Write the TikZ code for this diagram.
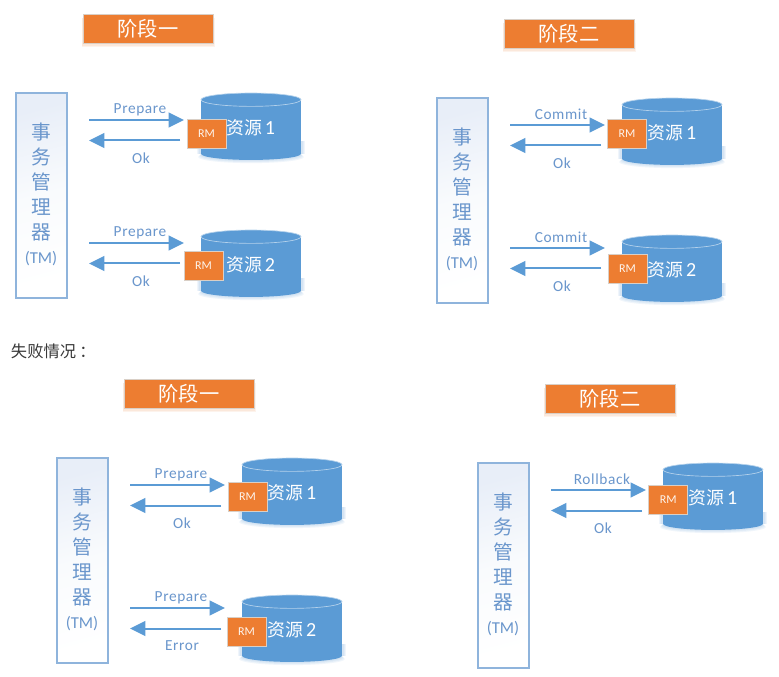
\documentclass[tikz,border=0pt]{standalone}
\usepackage{fontspec}
\usetikzlibrary{arrows.meta}
\setmainfont{Carlito}
\newfontfamily\cjk{Noto Sans CJK SC}
\newfontfamily\lat[LetterSpace=4]{Carlito}
\definecolor{ora}{HTML}{ED7D31}
\definecolor{blu}{HTML}{5B9BD5}
\definecolor{txtb}{HTML}{6A96CC}
\definecolor{edgeb}{HTML}{8FB4DC}
\definecolor{tmfill}{HTML}{E8EEF8}
\definecolor{tmmid}{HTML}{F9FBFD}
\definecolor{softedge}{HTML}{D9CFC6}
\tikzset{
  base/.style={inner sep=0pt,outer sep=0pt},
  titlebox/.style={base,fill=ora,draw=softedge,line width=0.6pt,minimum width=97.5pt,minimum height=21.75pt,text=white,font=\cjk\fontsize{15.2pt}{17pt}\selectfont},
  tmbox/.style={base,draw=edgeb,line width=1.1pt,minimum width=38.25pt,minimum height=153.75pt,top color=tmfill,bottom color=white,middle color=tmmid,shading angle=15},
  tmtext/.style={base,text=txtb,font=\cjk\fontsize{14.8pt}{16pt}\selectfont},
  tmsub/.style={base,text=txtb,font=\fontsize{12.5pt}{14pt}\selectfont},
  rmbox/.style={base,fill=ora,draw=softedge,line width=0.7pt,minimum width=29.25pt,minimum height=21.75pt,text=white!92!ora,font=\fontsize{9pt}{10pt}\selectfont},
  dbbox/.style={base,minimum width=75pt,minimum height=50.25pt},
  dbtext/.style={base,text=white,font=\cjk\fontsize{13.4pt}{15pt}\selectfont},
  msg/.style={base,text=txtb,font=\lat\fontsize{11.5pt}{13pt}\selectfont},
  flow/.style={draw=blu,line width=1.5pt,-{Triangle[length=11.5pt,width=11pt]}},
  failtext/.style={base,text=black!78,font=\cjk\fontsize{12.2pt}{14pt}\selectfont},
  softshadow/.style={fill=#1,opacity=0.09,draw=none}
}
% #1 id, #2 title
\newcommand{\panelhead}[2]{
  \foreach \g in {1,2,3}{\fill[softshadow=ora] (83-\g/2,18) rectangle (213+\g/2,43+\g*1.5);}
  \node[titlebox] (title#1) at (148,28.5) {#2};
  \node[tmbox] (tm#1) at (41.5,195.5) {};
  \node[tmtext] (s1#1) at (41,132) {事};
  \node[tmtext] (s2#1) at (41,157) {务};
  \node[tmtext] (s3#1) at (41,182) {管};
  \node[tmtext] (s4#1) at (41,207) {理};
  \node[tmtext] (s5#1) at (41,232) {器};
  \node[tmsub] (s6#1) at (41,259) {(TM)};
}
% #1 id, #2 cyl cy, #3 arrow y, #4 rm x, #5 rm y, #6 out label, #7 back label, #8 db text
\newcommand{\resource}[8]{
  \foreach \g in {1,2,3}{
    \fill[softshadow=blu] (251,#2+27.5+\g) ellipse [x radius=37.5pt+\g*0.7pt,y radius=4.6pt];
    \fill[softshadow=blu] (200-\g,#2+15) rectangle (302+\g,#2+27.3);
  }
  \node[dbbox] (db#1) at (251,#2) {};
  \fill[blu] (251,#2+27.3) ellipse [x radius=37.5pt,y radius=4.6pt];
  \fill[blu] (201,#2-26.8) rectangle (301,#2+27.3);
  \draw[fill=blu,draw=blu!45!white,line width=0.5pt] (251,#2-26.8) ellipse [x radius=37.5pt,y radius=5pt];
  \node[rmbox] (rm#1) at (#4,#5) {RM};
  \node[dbtext] (dbt#1) at (251,#2+1) {资源\kern1.8pt{\rmfamily\fontsize{15pt}{15pt}\selectfont #8}};
  \coordinate (outs#1) at (89,#3);
  \coordinate (oute#1) at (184,#3);
  \coordinate (backs#1) at (180,#3+20.5);
  \coordinate (backe#1) at (89,#3+20.5);
  \draw[flow] (outs#1) -- (oute#1);
  \draw[flow] (backs#1) -- (backe#1);
  \node[msg] (outl#1) at (140,#3-10.5) {#6};
  \node[msg] (backl#1) at (141,#3+38) {#7};
}
\begin{document}
\begin{tikzpicture}[x=0.75pt,y=-0.75pt]
\useasboundingbox (0,0) rectangle (779,677);
\fill[white] (0,0) rectangle (779,677);
\begin{scope}
  \panelhead{a}{阶段一}
  \resource{a1}{126.5}{120}{206.5}{133.5}{Prepare}{Ok}{1}
  \resource{a2}{263.5}{243}{203.5}{265.5}{Prepare}{Ok}{2}
\end{scope}
\begin{scope}[shift={(421,5)}]
  \panelhead{b}{阶段二}
  \resource{b1}{126.5}{120}{206}{128.5}{Commit}{Ok}{1}
  \resource{b2}{263.5}{243}{206.5}{264}{Commit}{Ok}{2}
\end{scope}
\node[failtext,anchor=west] (fail) at (11,351) {失败情况\hspace{2.5pt}：};
\begin{scope}[shift={(41,365)}]
  \panelhead{c}{阶段一}
  \resource{c1}{126.5}{120}{206.5}{131.5}{Prepare}{Ok}{1}
  \resource{c2}{263.5}{243}{205.5}{266.5}{Prepare}{Error}{2}
\end{scope}
\begin{scope}[shift={(462,370)}]
  \panelhead{d}{阶段二}
  \resource{d1}{126.5}{120}{206.3}{129.5}{Rollback}{Ok}{1}
\end{scope}
\end{tikzpicture}
\end{document}
